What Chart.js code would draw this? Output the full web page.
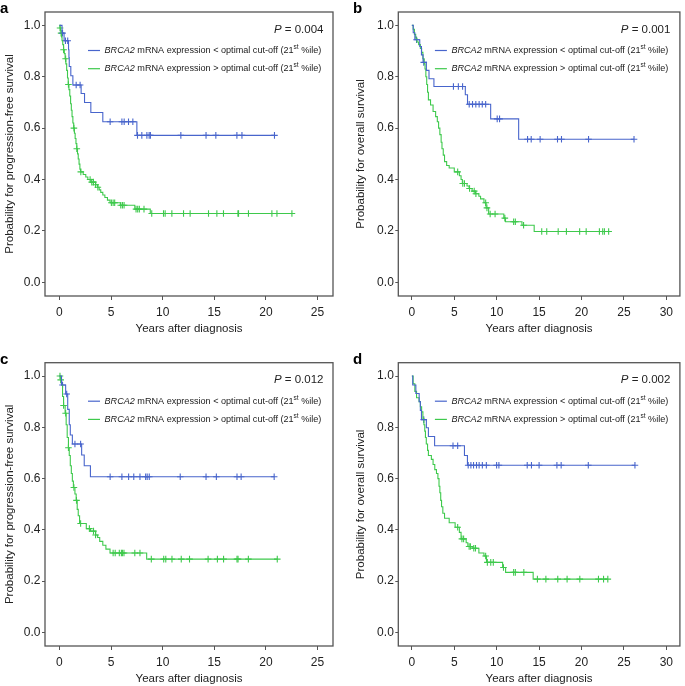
<!DOCTYPE html>
<html>
<head>
<meta charset="utf-8">
<script src="https://cdn.jsdelivr.net/npm/chart.js@4.4.0/dist/chart.umd.min.js"></script>
<style>
html, body { margin: 0; padding: 0; background: #fff; overflow: hidden; }
#wrap { position: relative; width: 685px; height: 686px; }
canvas { position: absolute; }
.lab { position: absolute; font: bold 15px "Liberation Sans", Arial, sans-serif; color: #000; line-height: 1; }
</style>
</head>
<body>
<div id="wrap">
  <canvas id="ca" width="340" height="340" style="left:0;top:0"></canvas>
  <canvas id="cb" width="345" height="340" style="left:340px;top:0"></canvas>
  <canvas id="cc" width="340" height="346" style="left:0;top:340px"></canvas>
  <canvas id="cd" width="345" height="346" style="left:340px;top:340px"></canvas>
  <div class="lab" style="left:0;top:0">a</div>
  <div class="lab" style="left:353px;top:0">b</div>
  <div class="lab" style="left:0;top:351px">c</div>
  <div class="lab" style="left:353px;top:351px">d</div>
</div>
<script>
// tick labels
const yTicks = [0, 0.2, 0.4, 0.6, 0.8, 1.0];
const xTicks25 = [0, 5, 10, 15, 20, 25];
const xTicks30 = [0, 5, 10, 15, 20, 25, 30];

// a: progression-free survival
const aBlueTime = [0.25, 0.45, 0.88, 0.92, 0.95, 1.1, 1.3, 2.1, 2.43, 3.04, 4.2, 7.5];
const aBlueSurv = [0.97, 0.94, 0.905, 0.875, 0.84, 0.804, 0.768, 0.735, 0.70, 0.661, 0.625, 0.572];
const aBlueCensor = [0.3, 0.58, 0.8, 1.62, 2.0, 4.91, 6.05, 6.27, 6.69, 7.11, 7.56, 7.98, 8.47, 8.69, 8.81, 11.76, 14.2, 15.15, 17.19, 17.68, 20.83];
const aGreenTime = [0.05, 0.1, 0.15, 0.2, 0.25, 0.32, 0.4, 0.47, 0.55, 0.62, 0.7, 0.78, 0.85, 0.92, 1.0, 1.08, 1.15, 1.22, 1.3, 1.38, 1.45, 1.52, 1.6, 1.68, 1.75, 1.82, 1.9, 1.98, 2.05, 2.3, 2.55, 2.75, 3.05, 3.5, 3.7, 3.85, 4.0, 4.2, 4.4, 4.65, 4.9, 5.9, 7.3, 8.8];
const aGreenSurv = [0.99, 0.98, 0.97, 0.955, 0.94, 0.925, 0.905, 0.89, 0.87, 0.85, 0.825, 0.795, 0.77, 0.75, 0.725, 0.695, 0.67, 0.645, 0.62, 0.6, 0.58, 0.56, 0.54, 0.52, 0.5, 0.48, 0.46, 0.44, 0.43, 0.42, 0.41, 0.40, 0.39, 0.38, 0.37, 0.36, 0.35, 0.34, 0.33, 0.32, 0.31, 0.30, 0.285, 0.268];
const aGreenCensor = [0.06, 0.16, 0.4, 0.6, 0.87, 1.4, 1.68, 2.07, 2.97, 3.13, 3.29, 3.5, 3.72, 5.03, 5.2, 5.35, 5.94, 6.1, 6.26, 7.42, 7.58, 7.74, 8.19, 8.94, 10.08, 10.24, 10.89, 12.02, 12.66, 14.44, 15.25, 15.89, 17.29, 17.35, 18.31, 20.58, 21.07, 22.52];

// b: overall survival
const bBlueTime = [0.16, 0.35, 0.93, 1.13, 1.32, 1.71, 2.02, 2.6, 6.3, 6.56, 9.29, 12.59];
const bBlueSurv = [0.971, 0.944, 0.918, 0.885, 0.856, 0.825, 0.792, 0.762, 0.73, 0.693, 0.636, 0.557];
const bBlueCensor = [0.55, 1.4, 4.9, 5.48, 5.98, 6.76, 7.15, 7.54, 7.93, 8.3, 8.7, 10.06, 10.34, 13.64, 14.07, 15.12, 17.17, 17.64, 20.83, 26.19];
const bGreenTime = [0.15, 0.3, 0.45, 0.6, 0.8, 1.0, 1.15, 1.3, 1.45, 1.55, 1.65, 1.75, 1.85, 1.95, 2.2, 2.5, 2.8, 3.0, 3.15, 3.3, 3.45, 3.55, 3.7, 3.85, 4.1, 4.4, 5.0, 5.6, 5.8, 5.95, 6.5, 6.75, 7.1, 7.5, 7.9, 8.1, 8.5, 8.75, 9.05, 10.84, 11.04, 12.98, 14.42];
const bGreenSurv = [0.985, 0.965, 0.95, 0.935, 0.925, 0.91, 0.895, 0.87, 0.85, 0.83, 0.8, 0.77, 0.74, 0.71, 0.69, 0.665, 0.645, 0.625, 0.6, 0.575, 0.545, 0.52, 0.495, 0.47, 0.455, 0.445, 0.43, 0.415, 0.4, 0.385, 0.375, 0.365, 0.355, 0.345, 0.335, 0.325, 0.31, 0.29, 0.266, 0.25, 0.236, 0.222, 0.198];
const bGreenCensor = [5.4, 6.0, 6.2, 6.8, 7.35, 7.55, 8.7, 8.85, 9.23, 9.81, 10.96, 12.0, 12.2, 13.17, 15.31, 15.9, 17.25, 18.22, 19.78, 20.55, 22.11, 22.5, 22.7, 23.2];

// c: progression-free survival
const cBlueTime = [0.2, 0.6, 0.8, 0.95, 1.05, 1.25, 2.15, 2.4, 3.0];
const cBlueSurv = [0.965, 0.93, 0.87, 0.81, 0.77, 0.735, 0.692, 0.65, 0.607];
const cBlueCensor = [0.3, 0.7, 1.5, 2.05, 4.91, 6.05, 6.7, 7.2, 7.8, 8.35, 8.5, 8.7, 11.7, 14.2, 15.2, 17.2, 17.6, 20.8];
const cGreenTime = [0.1, 0.2, 0.3, 0.4, 0.55, 0.65, 0.75, 0.87, 0.95, 1.05, 1.15, 1.25, 1.35, 1.5, 1.62, 1.72, 1.82, 1.95, 2.6, 3.0, 3.5, 3.7, 3.9, 4.2, 4.5, 4.9, 8.45];
const cGreenSurv = [0.985, 0.965, 0.92, 0.885, 0.855, 0.81, 0.76, 0.72, 0.69, 0.65, 0.62, 0.59, 0.565, 0.54, 0.515, 0.48, 0.455, 0.425, 0.405, 0.395, 0.38, 0.37, 0.355, 0.34, 0.325, 0.31, 0.286];
const cGreenCensor = [0.05, 0.12, 0.4, 0.6, 0.87, 1.4, 1.65, 2.05, 2.9, 3.3, 3.5, 5.2, 5.4, 5.8, 6.0, 6.1, 6.25, 7.3, 7.8, 8.9, 10.1, 10.3, 10.9, 11.8, 12.6, 14.4, 15.3, 15.9, 17.2, 17.3, 18.3, 21.1];

// d: overall survival
const dBlueTime = [0.1, 0.47, 0.86, 1.0, 1.13, 1.71, 1.95, 2.68, 6.2, 6.55];
const dBlueSurv = [0.965, 0.932, 0.9, 0.866, 0.83, 0.798, 0.764, 0.728, 0.69, 0.652];
const dBlueCensor = [1.4, 4.85, 5.4, 6.64, 6.96, 7.27, 7.62, 7.93, 8.31, 8.78, 9.99, 10.26, 13.6, 14.1, 15.0, 17.1, 17.6, 20.8, 26.3];
const dGreenTime = [0.15, 0.35, 0.55, 0.85, 1.0, 1.15, 1.3, 1.42, 1.52, 1.6, 1.7, 1.85, 1.95, 2.3, 2.5, 2.7, 2.9, 3.07, 3.2, 3.3, 3.4, 3.5, 3.65, 3.85, 4.4, 5.1, 5.6, 5.8, 6.4, 6.6, 7.1, 7.9, 8.5, 8.8, 10.7, 11.05, 14.3];
const dGreenSurv = [0.97, 0.94, 0.915, 0.9, 0.88, 0.86, 0.835, 0.81, 0.785, 0.76, 0.735, 0.71, 0.69, 0.675, 0.655, 0.635, 0.62, 0.6, 0.57, 0.545, 0.515, 0.49, 0.465, 0.445, 0.428, 0.41, 0.39, 0.365, 0.35, 0.335, 0.328, 0.31, 0.298, 0.273, 0.253, 0.234, 0.208];
const dGreenCensor = [5.4, 5.9, 6.1, 6.75, 6.9, 7.3, 7.5, 8.7, 8.9, 9.3, 9.6, 10.8, 12.0, 12.2, 13.2, 14.8, 15.8, 17.2, 18.3, 19.8, 22.0, 22.6, 23.1];

const FAM = '"Liberation Sans", Arial, Helvetica, sans-serif';
const BLUE = '#4865cc';
const GREEN = '#3ec94c';
const TEXT = '#222';

// survival value at a given time from the step arrays
function survAt(t, times, survs) {
    let s = 1;
    for (let i = 0; i < times.length; i++) {
        if (times[i] <= t) s = survs[i];
    }
    return s;
}

function stepSet(times, survs, censors, color) {
    const pts = [{ x: 0, y: 1 }];
    times.forEach((t, i) => pts.push({ x: t, y: survs[i] }));
    pts.push({ x: Math.max(...censors), y: survs[survs.length - 1] });
    return { data: pts, showLine: true, stepped: 'before', borderColor: color, borderWidth: 1.1, pointRadius: 0, fill: false };
}

function censorSet(times, survs, censors, color) {
    const pts = censors.map(t => ({ x: t, y: survAt(t, times, survs) }));
    return { data: pts, showLine: false, pointStyle: 'cross', pointRadius: 3.3, borderColor: color, borderWidth: 1.1 };
}

// box around the plot region
const framePlugin = {
    id: 'frame',
    afterDraw(chart) {
        const a = chart.chartArea;
        const ctx = chart.ctx;
        ctx.save();
        ctx.strokeStyle = '#555';
        ctx.lineWidth = 1.3;
        ctx.strokeRect(a.left, a.top, a.right - a.left, a.bottom - a.top);
        ctx.restore();
    }
};

// p-value and legend with italic gene name and superscript
const kmTextPlugin = {
    id: 'kmText',
    afterDraw(chart, args, opts) {
        const a = chart.chartArea;
        const ctx = chart.ctx;
        ctx.save();
        ctx.textBaseline = 'middle';
        ctx.textAlign = 'left';
        ctx.fillStyle = TEXT;

        // P = ...
        const pFont = 'italic 11.5px ' + FAM;
        const nFont = '11.5px ' + FAM;
        ctx.font = nFont;
        const rest = ' = ' + opts.p;
        const wRest = ctx.measureText(rest).width;
        ctx.font = pFont;
        const wP = ctx.measureText('P').width;
        const py = a.top + 17.5;
        let px = a.right - 9.5 - wRest - wP;
        ctx.fillText('P', px, py);
        ctx.font = nFont;
        ctx.fillText(rest, px + wP, py);

        const rows = [
            { color: BLUE, sign: '<', y: a.top + 38.5 },
            { color: GREEN, sign: '>', y: a.top + 56.7 }
        ];
        rows.forEach(r => {
            ctx.strokeStyle = r.color;
            ctx.lineWidth = 1.2;
            ctx.beginPath();
            ctx.moveTo(a.right - 245, r.y);
            ctx.lineTo(a.right - 233, r.y);
            ctx.stroke();
            let x = a.right - 228.5;
            const parts = [
                { t: 'BRCA2', f: 'italic 9.1px ' + FAM, dy: 0 },
                { t: ' mRNA expression ' + r.sign + ' optimal cut-off (21', f: '9.1px ' + FAM, dy: 0 },
                { t: 'st', f: '6.5px ' + FAM, dy: -3 },
                { t: ' %ile)', f: '9.1px ' + FAM, dy: 0 }
            ];
            parts.forEach(p => {
                ctx.font = p.f;
                ctx.fillText(p.t, x, r.y + p.dy);
                x += ctx.measureText(p.t).width;
            });
        });
        ctx.restore();
    }
};

function makeChart(cfg) {
    const canvas = document.getElementById(cfg.id);
    const cw = canvas.width, ch = canvas.height;
    const area = cfg.area;
    const H = 40;
    return new Chart(canvas, {
        type: 'scatter',
        data: {
            datasets: [
                stepSet(cfg.blue[0], cfg.blue[1], cfg.blue[2], BLUE),
                stepSet(cfg.green[0], cfg.green[1], cfg.green[2], GREEN),
                censorSet(cfg.blue[0], cfg.blue[1], cfg.blue[2], BLUE),
                censorSet(cfg.green[0], cfg.green[1], cfg.green[2], GREEN)
            ]
        },
        options: {
            responsive: false,
            animation: false,
            layout: { padding: { left: area.left - cfg.yW, top: area.top, right: cw - area.right, bottom: ch - area.bottom - H } },
            plugins: { legend: { display: false }, tooltip: { enabled: false }, kmText: { p: cfg.p } },
            scales: {
                x: {
                    type: 'linear',
                    min: cfg.xMin,
                    max: cfg.xMax,
                    afterBuildTicks: s => { s.ticks = cfg.xTicks.map(v => ({ value: v })); },
                    afterFit: s => { s.height = H; },
                    grid: { drawOnChartArea: false, drawTicks: true, tickLength: 4, color: '#555' },
                    border: { display: false },
                    ticks: { font: { family: FAM, size: 12 }, color: TEXT, padding: 5, maxRotation: 0, autoSkip: false },
                    title: { display: true, text: 'Years after diagnosis', font: { family: FAM, size: 11.5 }, color: TEXT, padding: 0 }
                },
                y: {
                    type: 'linear',
                    min: -0.053,
                    max: 1.052,
                    afterBuildTicks: s => { s.ticks = yTicks.map(v => ({ value: v })); },
                    afterFit: s => { s.width = cfg.yW; },
                    grid: { drawOnChartArea: false, drawTicks: true, tickLength: 3, color: '#555' },
                    border: { display: false },
                    ticks: { font: { family: FAM, size: 12 }, color: TEXT, padding: 1.5, callback: v => v.toFixed(1) },
                    title: { display: true, text: cfg.yTitle, font: { family: FAM, size: 11.5 }, color: TEXT, padding: 0 }
                }
            }
        },
        plugins: [framePlugin, kmTextPlugin]
    });
}

makeChart({
    id: 'ca', p: '0.004', yTitle: 'Probability for progression-free survival',
    area: { left: 45, top: 12, right: 333, bottom: 296 }, yW: 42,
    xMin: -1.4, xMax: 26.5, xTicks: xTicks25,
    blue: [aBlueTime, aBlueSurv, aBlueCensor], green: [aGreenTime, aGreenSurv, aGreenCensor]
});
makeChart({
    id: 'cb', p: '0.001', yTitle: 'Probability for overall survival',
    area: { left: 58.3, top: 12, right: 343, bottom: 296 }, yW: 44,
    xMin: -1.6, xMax: 31.6, xTicks: xTicks30,
    blue: [bBlueTime, bBlueSurv, bBlueCensor], green: [bGreenTime, bGreenSurv, bGreenCensor]
});
makeChart({
    id: 'cc', p: '0.012', yTitle: 'Probability for progression-free survival',
    area: { left: 45, top: 22.7, right: 333, bottom: 306 }, yW: 42,
    xMin: -1.4, xMax: 26.5, xTicks: xTicks25,
    blue: [cBlueTime, cBlueSurv, cBlueCensor], green: [cGreenTime, cGreenSurv, cGreenCensor]
});
makeChart({
    id: 'cd', p: '0.002', yTitle: 'Probability for overall survival',
    area: { left: 58.3, top: 22.7, right: 343, bottom: 306 }, yW: 44,
    xMin: -1.6, xMax: 31.6, xTicks: xTicks30,
    blue: [dBlueTime, dBlueSurv, dBlueCensor], green: [dGreenTime, dGreenSurv, dGreenCensor]
});
</script>
</body>
</html>
